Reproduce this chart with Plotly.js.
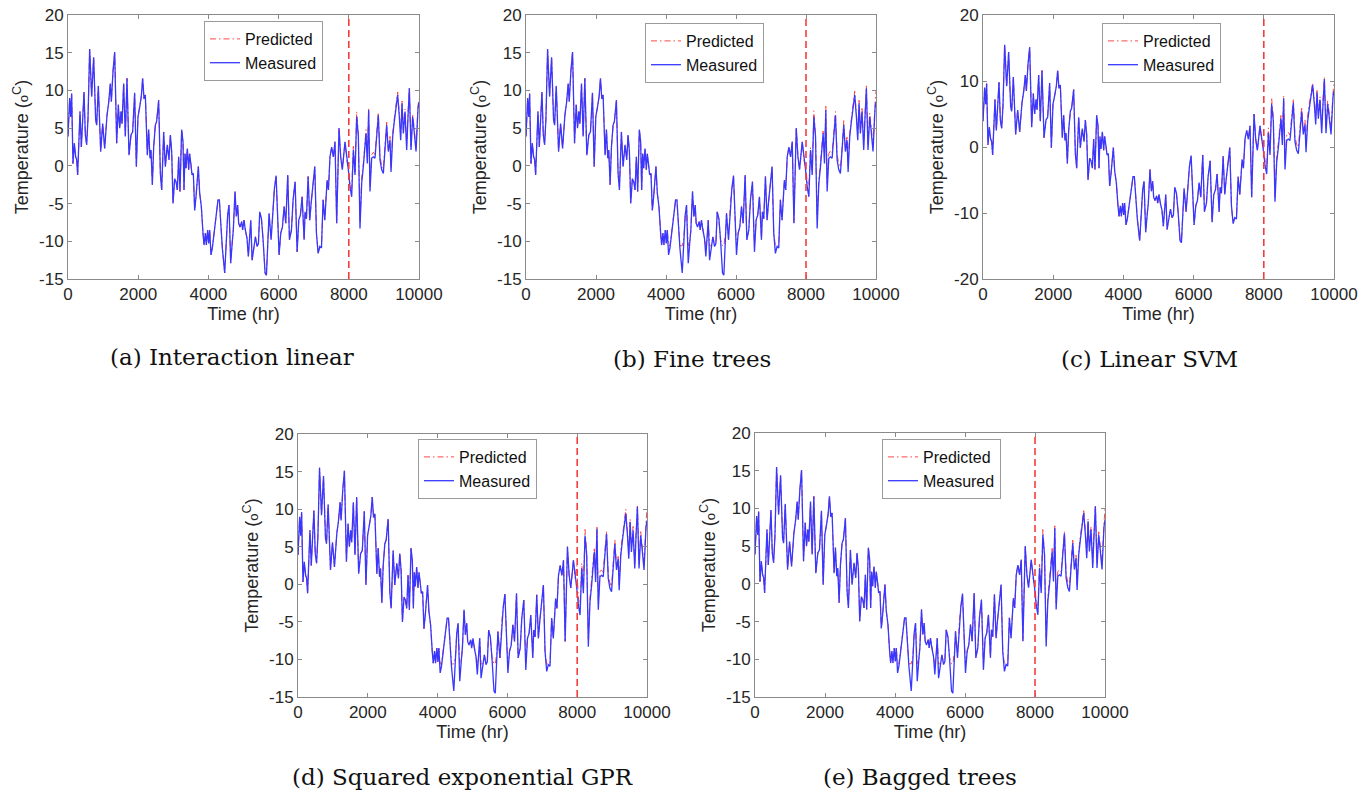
<!DOCTYPE html>
<html>
<head>
<meta charset="utf-8">
<script src="https://cdn.plot.ly/plotly-3.0.1.min.js"></script>
<style>html,body{margin:0;padding:0;background:#fff;}#chart{width:1372px;height:791px;}</style>
</head>
<body>
<div id="chart"></div>
<script>
// ---------------- DATA ----------------
const timeHours = [
  0, 47, 76, 104, 142, 180, 218, 247, 275, 313, 342, 380, 418, 456, 494, 532, 570, 617, 674, 731,
  788, 817, 864, 931, 988, 1045, 1111, 1159, 1206, 1235, 1282, 1330, 1387, 1434, 1472, 1510, 1539, 1586, 1633, 1681,
  1738, 1795, 1842, 1899, 1947, 1994, 2042, 2089, 2127, 2165, 2203, 2260, 2298, 2336, 2365, 2403, 2441, 2488, 2526, 2583,
  2631, 2669, 2726, 2773, 2830, 2878, 2916, 2954, 2992, 3039, 3077, 3115, 3153, 3191, 3238, 3276, 3305, 3333, 3362, 3400,
  3438, 3466, 3504, 3533, 3571, 3609, 3647, 3675, 3713, 3751, 3799,
  3846, 3875, 3913, 3941, 3979, 4008, 4036, 4074, 4112, 4150, 4198, 4226, 4274, 4312, 4350, 4397, 4464, 4511, 4549, 4587,
  4635, 4682, 4710, 4758, 4796, 4834, 4862, 4900, 4948, 4976, 5014, 5052, 5100, 5138, 5178, 5207, 5245, 5292, 5340, 5387,
  5425, 5463, 5511, 5558, 5615, 5653, 5701, 5729, 5786, 5843, 5881, 5929, 5967, 6014, 6062, 6109, 6157, 6204, 6261, 6309,
  6366, 6413, 6470, 6527, 6575, 6622, 6670, 6727, 6755, 6793, 6841, 6888, 6926, 6983, 7031, 7078, 7126, 7173, 7221, 7268,
  7316, 7382, 7420,
  7464, 7512, 7560, 7607, 7655, 7721, 7769, 7816, 7892, 7940,
  7987, 8035, 8082, 8130, 8177, 8224, 8272, 8319, 8367, 8414, 8490, 8528, 8566, 8604, 8651, 8699, 8746, 8794, 8841, 8889,
  8936, 8984, 9031, 9079, 9126, 9174, 9203, 9250, 9297, 9345, 9392, 9440, 9478, 9516, 9554, 9601, 9649, 9687, 9725, 9772,
  9820, 9858, 9915, 9972, 10000
];

const measuredTemp = [
  3.9, 9.0, 6.5, 9.6, 0.3, 3.0, 1.2, 0.8, -1.2, 2.5, 7.2, 2.5, 7.4, 9.8, 4.1, 2.8, 6.3, 15.5, 9.2, 14.4,
  6.1, 5.4, 10.6, 1.9, 5.6, 2.3, 6.7, 8.4, 10.9, 8.5, 12.5, 15.1, 3.0, 8.1, 5.0, 7.2, 5.6, 10.9, 3.9, 11.6,
  1.4, 4.1, 4.5, 9.7, -0.1, 6.5, 7.8, 9.2, 11.6, 8.9, 9.4, 1.4, 4.8, 1.0, 2.1, -2.5, 2.5, 5.4, 5.9, 8.7,
  -1.0, -3.2, 4.5, -0.1, 2.8, 0.8, 4.1, 1.9, -5.0, -1.7, -2.1, -3.2, 1.2, -3.4, 4.8, 3.2, -3.2, 1.6, -0.3, 2.3,
  -0.5, 1.6, 0.1, -1.2, -1.0, -5.9, -4.1, -1.9, -0.1, -3.6, -5.4,
  -8.9, -10.5, -8.9, -10.5, -8.5, -10.3, -8.5, -11.8, -10.9, -9.2, -7.6, -6.3, -4.5, -4.5, -8.1, -10.9, -14.2, -9.6, -6.5, -5.2,
  -12.9, -10.0, -8.5, -3.4, -6.7, -5.2, -7.6, -8.1, -7.4, -8.5, -7.2, -8.5, -9.6, -12.0, -9.6, -7.2, -12.5, -10.7, -9.4, -10.7,
  -10.3, -6.1, -7.0, -9.8, -14.2, -14.5, -8.9, -6.3, -9.8, -4.7, -3.0, -1.3, -6.3, -11.8, -8.9, -8.1, -5.4, -7.6, -1.2, -9.8,
  -8.5, -4.5, -2.1, -11.4, -7.2, -6.5, -4.1, -9.8, -6.1, -7.0, -1.4, -7.2, -5.0, -1.7, -0.1, -8.9, -11.6, -10.7, -10.9, -4.5,
  -7.2, -1.9, -3.2,
  1.2, 2.5, 1.2, 3.2, -7.6, 5.0, 1.2, -0.5, 3.2, 0.8,
  -0.5, -2.8, -4.1, 2.1, -1.2, 6.5, 3.9, -8.3, -2.3, -0.1, 4.3, 0.3, 7.4, -3.4, 1.0, 1.2, 1.0, 3.9, 6.7, 0.8,
  -0.5, -1.0, 1.9, 5.4, 1.9, 3.4, -0.8, 3.9, 5.9, 7.4, 9.4, 6.5, 3.4, 8.3, 4.3, 7.2, 2.1, 6.5, 10.3, 2.1,
  6.5, 4.8, 1.9, 7.6, 8.5
];

// train/test boundary (vertical dashed line) and first predicted test sample
const splitTime = 8000;
const testStartTime = 7987;

// tree / GPR models: predicted training values in the winter segment (floored near -10.6)
const floorSegmentStartTime = 3846;
const floorSegmentTemp = [
  -8.9, -10.5, -8.9, -10.5, -8.5, -10.3, -8.5, -10.6, -10.6, -9.2, -7.6, -6.3, -4.5, -4.5, -8.1, -10.6, -10.6, -9.6, -6.5, -5.2,
  -10.6, -10.0, -8.5, -3.4, -6.7, -5.2, -7.6, -8.1, -7.4, -8.5, -7.2, -8.5, -9.6, -10.6, -9.6, -7.2, -10.6, -10.6, -9.4, -10.6,
  -10.3, -6.1, -7.0, -9.8, -10.6, -10.6, -8.9, -6.3, -9.8, -4.7, -3.0, -1.3, -6.3, -10.6, -8.9, -8.1, -5.4, -7.6, -1.2, -9.8,
  -8.5, -4.5, -2.1, -10.6, -7.2, -6.5, -4.1, -9.8, -6.1, -7.0, -1.4, -7.2, -5.0, -1.7, -0.1, -8.9, -10.6, -10.6, -10.6, -4.5,
  -7.2, -1.9, -3.2
];

// predicted test values (from testStartTime onward), one list per model
const predInteractionLinear = [
  -0.3, -2.3, -3.0, 2.6, -0.8, 7.2, 4.2, -7.5, -1.6, 0.3, 4.8, 0.8, 7.6, -2.8, 1.5, 1.8, 1.5, 4.3, 7.1, 1.3,
  0.0, -0.4, 2.4, 5.8, 2.3, 3.9, -0.3, 4.3, 6.3, 7.8, 9.8, 6.9, 3.9, 8.6, 4.8, 7.5, 2.6, 6.9, 10.4, 2.6,
  6.9, 5.2, 2.4, 8.0, 8.8
];
const predFineTrees = [
  -0.2, -2.0, -2.6, 2.4, -0.5, 7.3, 4.0, -7.0, -1.9, 0.5, 4.6, 1.0, 7.9, -2.5, 1.6, 2.0, 1.7, 4.4, 7.2, 1.5,
  0.3, -0.2, 2.3, 6.0, 2.2, 4.0, 0.0, 4.4, 6.5, 8.0, 9.9, 7.0, 4.1, 8.7, 4.9, 7.8, 2.8, 7.0, 10.6, 2.8,
  7.0, 5.4, 2.7, 8.2, 9.9
];
const predLinearSVM = [
  0.3, -2.0, -3.0, 2.9, -0.4, 7.3, 4.5, -7.6, -1.4, 0.6, 5.0, 1.2, 7.8, -2.5, 1.9, 2.2, 1.8, 4.6, 7.3, 1.6,
  0.4, 0.0, 2.7, 6.1, 2.6, 4.1, 0.2, 4.7, 6.6, 8.1, 9.7, 7.1, 4.2, 8.8, 5.0, 7.6, 2.9, 7.1, 10.5, 2.9,
  7.0, 5.4, 2.8, 8.2, 9.6
];
const predSquaredExpGPR = [
  2.5, -2.0, -2.8, 2.8, -0.6, 7.3, 4.3, -7.2, -1.8, 0.4, 4.9, 1.0, 7.8, -2.6, 1.7, 1.9, 1.6, 4.5, 7.0, 1.4,
  0.2, -0.3, 2.5, 5.9, 2.3, 3.9, 0.0, 4.6, 6.4, 7.9, 10.0, 7.0, 4.0, 8.7, 4.9, 7.7, 2.7, 7.0, 10.4, 2.7,
  7.0, 5.3, 2.6, 8.3, 9.9
];
const predBaggedTrees = [
  0.0, -2.2, -2.9, 2.6, -0.6, 7.2, 4.1, -7.3, -1.8, 0.4, 4.7, 0.9, 7.7, -2.7, 1.6, 1.9, 1.6, 4.4, 6.9, 1.4,
  0.2, -0.3, 2.4, 5.8, 2.2, 3.8, -0.1, 4.4, 6.3, 7.8, 9.9, 6.9, 4.0, 8.6, 4.8, 7.6, 2.7, 6.9, 10.4, 2.6,
  6.9, 5.3, 2.6, 8.1, 9.9
];

const panelCaptions = ['(a) Interaction linear', '(b) Fine trees', '(c) Linear SVM',
                       '(d) Squared exponential GPR', '(e) Bagged trees'];
const xTicks = [0, 2000, 4000, 6000, 8000, 10000];
const yTicksStd = [-15, -10, -5, 0, 5, 10, 15, 20];
const yTicksWide = [-20, -10, 0, 10, 20];

// ---------------- BUILD ----------------
const W = 1372, H = 791;
const testIdx = timeHours.indexOf(testStartTime);
const floorIdx = timeHours.indexOf(floorSegmentStartTime);

function buildPredicted(testVals, useFloor) {
  let y = measuredTemp.slice(0, testIdx);
  if (useFloor) {
    y = measuredTemp.slice(0, floorIdx)
      .concat(floorSegmentTemp)
      .concat(measuredTemp.slice(floorIdx + floorSegmentTemp.length, testIdx));
  }
  return y.concat(testVals);
}

const panels = [
  {pred: predInteractionLinear, floor: false, box: [68, 419, 15, 279], legend: [204, 21], cap: [232, 357], yr: [-15, 20], yt: yTicksStd},
  {pred: predFineTrees,         floor: true,  box: [526, 876, 15, 279], legend: [645, 23], cap: [692, 359], yr: [-15, 20], yt: yTicksStd},
  {pred: predLinearSVM,         floor: false, box: [983, 1334, 15, 279], legend: [1102, 23], cap: [1149, 359], yr: [-20, 20], yt: yTicksWide},
  {pred: predSquaredExpGPR,     floor: true,  box: [298, 647, 434, 697], legend: [418, 439], cap: [462, 777], yr: [-15, 20], yt: yTicksStd},
  {pred: predBaggedTrees,       floor: true,  box: [755, 1105, 433, 697], legend: [882, 439], cap: [920, 777], yr: [-15, 20], yt: yTicksStd}
];

const FAM = 'Liberation Sans, Arial, sans-serif';
const axisFont = {family: FAM, size: 17, color: '#262626'};
const data = [];
const layout = {
  width: W, height: H,
  margin: {l: 0, r: 0, t: 0, b: 0},
  paper_bgcolor: '#fff', plot_bgcolor: '#fff',
  font: axisFont,
  shapes: [], annotations: []
};

panels.forEach((p, i) => {
  const n = i + 1;
  const xa = 'x' + (n === 1 ? '' : n), ya = 'y' + (n === 1 ? '' : n);
  const xk = 'xaxis' + (n === 1 ? '' : n), yk = 'yaxis' + (n === 1 ? '' : n);
  const lg = 'legend' + (n === 1 ? '' : n);
  data.push({
    x: timeHours, y: buildPredicted(p.pred, p.floor), xaxis: xa, yaxis: ya,
    type: 'scatter', mode: 'lines', name: 'Predicted', legend: lg,
    line: {color: 'rgb(255,50,50)', width: 0.9, dash: '6px,3px,1.5px,3px'}
  });
  data.push({
    x: timeHours, y: measuredTemp, xaxis: xa, yaxis: ya,
    type: 'scatter', mode: 'lines', name: 'Measured', legend: lg,
    line: {color: 'rgb(55,55,255)', width: 1.3}
  });
  const [x0, x1, y0, y1] = p.box;
  layout[xk] = {
    domain: [x0 / W, x1 / W], anchor: ya, range: [0, 10000],
    tickvals: xTicks, ticktext: xTicks.map(String), ticks: 'inside', ticklen: 4,
    tickcolor: '#8a8a8a', showline: true, linecolor: '#8a8a8a', linewidth: 1, mirror: 'ticks',
    showgrid: false, zeroline: false, tickfont: axisFont,
    title: {text: 'Time (hr)', font: {family: FAM, size: 18, color: '#262626'}, standoff: 3}
  };
  layout[yk] = {
    domain: [1 - y1 / H, 1 - y0 / H], anchor: xa, range: p.yr,
    tickvals: p.yt, ticktext: p.yt.map(String), ticks: 'inside', ticklen: 4,
    tickcolor: '#8a8a8a', showline: true, linecolor: '#8a8a8a', linewidth: 1, mirror: 'ticks',
    showgrid: false, zeroline: false, tickfont: axisFont,
    title: {text: 'Temperature (<span style="font-size:13px">o</span><sup>C</sup>)',
            font: {family: FAM, size: 18, color: '#262626'}, standoff: 5}
  };
  layout[lg] = {
    x: p.legend[0] / W, y: 1 - p.legend[1] / H, xanchor: 'left', yanchor: 'top',
    xref: 'paper', yref: 'paper',
    bgcolor: '#fff', bordercolor: '#9a9a9a', borderwidth: 1,
    font: {family: FAM, size: 16, color: '#111'},
    tracegroupgap: 0, itemwidth: 30
  };
  layout.shapes.push({
    type: 'line', xref: xa, yref: ya + ' domain', x0: splitTime, x1: splitTime, y0: 0, y1: 1,
    line: {color: 'rgb(245,60,60)', width: 1.6, dash: '7px,4px'}
  });
  layout.annotations.push({
    xref: 'paper', yref: 'paper', x: p.cap[0] / W, y: 1 - p.cap[1] / H,
    xanchor: 'center', yanchor: 'middle', showarrow: false,
    text: panelCaptions[i],
    font: {family: 'DejaVu Serif, serif', size: 23, color: '#111'}
  });
});

Plotly.newPlot('chart', data, layout, {displayModeBar: false, staticPlot: true});
</script>
</body>
</html>
